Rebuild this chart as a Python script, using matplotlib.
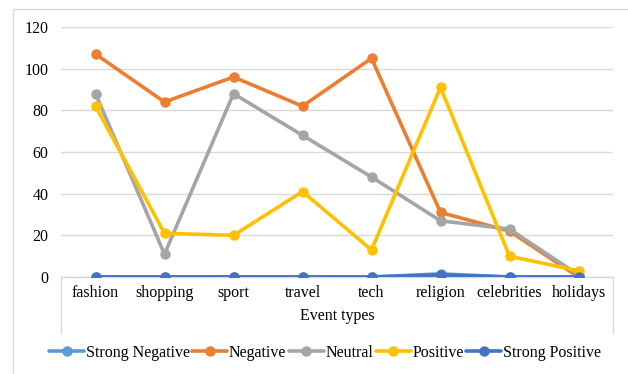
import matplotlib
matplotlib.use("Agg")
import matplotlib.pyplot as plt
from matplotlib.lines import Line2D
from matplotlib.patches import Rectangle

categories = ["fashion", "shopping", "sport", "travel", "tech", "religion", "celebrities", "holidays"]
strong_negative = [0, 0, 0, 0, 0, 1.5, 0, 0]
negative = [107, 84, 96, 82, 105, 31, 22, 0]
neutral = [88, 11, 88, 68, 48, 27, 23, 1]
positive = [82, 21, 20, 41, 13, 91, 10, 3]
strong_positive = [0, 0, 0, 0, 0, 1, 0, 0]
y_ticks = [0, 20, 40, 60, 80, 100, 120]

series = [
    ("Strong Negative", strong_negative, "#5B9BD5"),
    ("Negative", negative, "#ED7D31"),
    ("Neutral", neutral, "#A5A5A5"),
    ("Positive", positive, "#FFC000"),
    ("Strong Positive", strong_positive, "#4472C4"),
]

plt.rcParams["font.family"] = ["Liberation Serif", "DejaVu Serif"]
FS = 11.5
W, H = 628, 374
fig = plt.figure(figsize=(W / 100, H / 100), dpi=100)

# chart area border
fig.patches.append(Rectangle((13 / W, -0.1), 1.2, 1 - 9 / H + 0.1, transform=fig.transFigure,
                             fill=False, edgecolor="#D9D9D9", linewidth=1.0))

ax = fig.add_axes([61 / W, 1 - 277 / H, (613 - 61) / W, (277 - 27) / H])
x = list(range(len(categories)))
for name, vals, color in series:
    ax.plot(x, vals, color=color, linewidth=2.6, marker="o", markersize=6.5,
            label=name, solid_capstyle="round", zorder=3)

ax.set_xlim(-0.5, len(categories) - 0.5)
ax.set_ylim(0, 120)
ax.set_yticks(y_ticks)
ax.set_yticklabels([str(v) for v in y_ticks], fontsize=FS)
ax.yaxis.grid(True, color="#D9D9D9", linewidth=1.0)
ax.set_axisbelow(True)
for side in ["left", "right", "top"]:
    ax.spines[side].set_visible(False)
ax.spines["bottom"].set_color("#D9D9D9")
ax.spines["bottom"].set_linewidth(1.0)
ax.tick_params(axis="y", length=0, pad=9)
ax.tick_params(axis="x", length=0, pad=6)
ax.set_xticks(x)
ax.set_xticklabels(categories, fontsize=FS)

# category axis side lines
frac = (333 - 277) / (277 - 27)
for xa in (0, 1):
    ax.add_line(Line2D([xa, xa], [0, -frac], transform=ax.transAxes, color="#D9D9D9",
                       linewidth=1.0, clip_on=False))

ax.set_xlabel("Event types", fontsize=FS, labelpad=5)

handles, labels = ax.get_legend_handles_labels()
fig.legend(handles, labels, loc="center", bbox_to_anchor=(325 / W, 1 - 353 / H), ncol=5,
           frameon=False, fontsize=FS, handlelength=2.2, handletextpad=0.1,
           columnspacing=0.15, borderaxespad=0)

fig.savefig("out.png", dpi=100)
